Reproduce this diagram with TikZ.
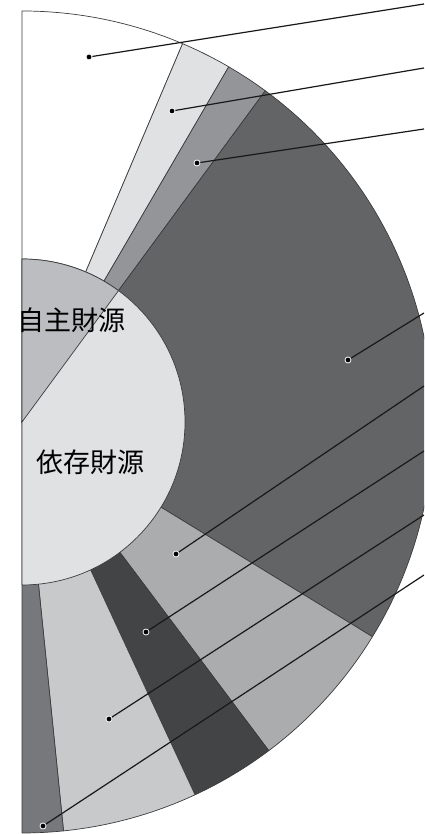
\documentclass[tikz,border=0pt]{standalone}
\usepackage{fontspec}
\newfontfamily\jpfont{Noto Sans CJK JP}
\definecolor{edgegray}{HTML}{3C3C3E}
\definecolor{ringB}{HTML}{E0E1E3}
\definecolor{ringC}{HTML}{939598}
\definecolor{ringD}{HTML}{636466}
\definecolor{ringE}{HTML}{ABACAE}
\definecolor{ringF}{HTML}{434446}
\definecolor{ringG}{HTML}{C8C9CB}
\definecolor{ringH}{HTML}{77787B}
\definecolor{coreA}{HTML}{BCBDC0}
\definecolor{coreB}{HTML}{E0E1E3}

\begin{document}
\begin{tikzpicture}[x=1pt,y=1pt,
    wedge/.style={draw=edgegray,line width=0.7pt,line join=round},
    pt/.style={circle,fill=black,draw=white,line width=0.8pt,inner sep=0pt,minimum size=6pt},
    lead/.style={line width=1.2pt,black!90},
    core label/.style={font=\jpfont\fontsize{27}{27}\selectfont,inner sep=0pt}]
    \useasboundingbox (0,0) rectangle (424,834);
    \clip (0,0) rectangle (424,834);
    \coordinate (C) at (22,412);

    % outer ring
    \foreach \a/\b/\c in {90/67/white, 67/59.8/ringB, 59.8/53.7/ringC, 53.7/-31.5/ringD,
                          -31.5/-53.1/ringE, -53.1/-65.1/ringF, -65.1/-84.2/ringG, -84.2/-90/ringH}
        \draw[wedge,fill=\c] (C) -- ++(\a:411) arc[start angle=\a,end angle=\b,radius=411] -- cycle;

    % inner pie
    \draw[wedge,fill=coreB] (C) ++(90:163) arc[start angle=90,end angle=-90,radius=163] -- cycle;
    \draw[wedge,fill=coreA] (C) -- ++(90:163) arc[start angle=90,end angle=53.7,radius=163] -- cycle;

    \node[core label] (own) at (71,514) {自主財源};
    \node[core label] (dep) at (90,372) {依存財源};

    % leader lines
    \node[pt] (p1) at (89,777) {};
    \node[pt] (p2) at (172,723) {};
    \node[pt] (p3) at (197,671) {};
    \node[pt] (p4) at (348,474) {};
    \node[pt] (p5) at (176,280) {};
    \node[pt] (p6) at (146,202) {};
    \node[pt] (p7) at (109,115) {};
    \node[pt] (p8) at (43,8) {};
    \coordinate (e1) at (424,830);
    \coordinate (e2) at (424,766);
    \coordinate (e3) at (424,705);
    \coordinate (e4) at (424,521);
    \coordinate (e5) at (424,448);
    \coordinate (e6) at (424,383);
    \coordinate (e7) at (424,319);
    \coordinate (e8) at (424,259);
    \foreach \i in {1,...,8}
        \draw[lead] (p\i) -- (e\i);
\end{tikzpicture}
\end{document}
